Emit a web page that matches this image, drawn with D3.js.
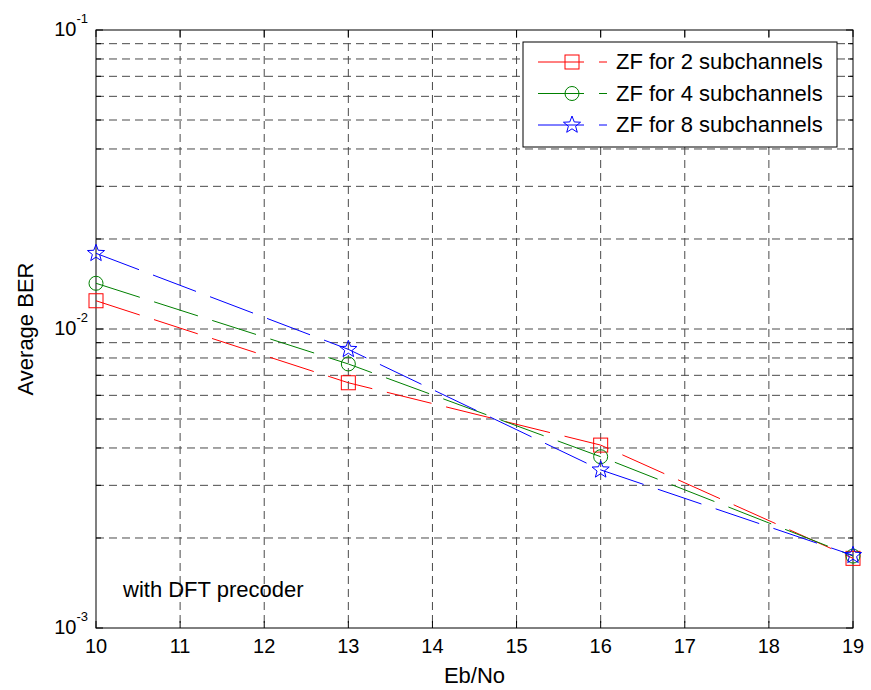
<!DOCTYPE html>
<html>
<head>
<meta charset="utf-8">
<script src="https://cdn.jsdelivr.net/npm/d3@7"></script>
<style>
  body { margin: 0; background: #fff; }
  text { font-family: "Liberation Sans", Arial, sans-serif; fill: #000; }
</style>
</head>
<body>
<div id="chart"></div>
<script>
var ebno = [10, 13, 16, 19];
var ber2 = [0.01243, 0.00661, 0.00409, 0.00171];
var ber4 = [0.01422, 0.00764, 0.00374, 0.00174];
var ber8 = [0.01791, 0.00855, 0.00338, 0.00175];
var xTicks = [10, 11, 12, 13, 14, 15, 16, 17, 18, 19];
var yDecades = [-3, -2, -1];
var seriesNames = ["ZF for 2 subchannels", "ZF for 4 subchannels", "ZF for 8 subchannels"];

var W = 871, H = 690;
var margin = {left: 96, top: 30, right: 18, bottom: 62};
var width = W - margin.left - margin.right;
var height = H - margin.top - margin.bottom;

var svg = d3.select("#chart").append("svg")
    .attr("width", W)
    .attr("height", H);

var g = svg.append("g")
    .attr("transform", "translate(" + margin.left + "," + margin.top + ")");

var xScale = d3.scaleLinear().domain([10, 19]).range([0, width]);
var yScale = d3.scaleLog().domain([1e-3, 1e-1]).range([height, 0]);

// minor values for log grid
var yMinor = [];
[-3, -2].forEach(function(e) {
    for (var k = 2; k <= 9; k++) yMinor.push(k * Math.pow(10, e));
});
var yMajor = yDecades.map(function(e) { return Math.pow(10, e); });

// grid
var grid = g.append("g")
    .attr("stroke", "#4a4a4a")
    .attr("stroke-width", 1)
    .attr("stroke-dasharray", "8,5");
grid.selectAll("line.gx")
    .data(xTicks.slice(1, -1))
    .enter().append("line")
    .attr("x1", d => xScale(d)).attr("x2", d => xScale(d))
    .attr("y1", 0).attr("y2", height);
grid.selectAll("line.gy")
    .data(yMinor.concat([1e-2]))
    .enter().append("line")
    .attr("x1", 0).attr("x2", width)
    .attr("y1", d => yScale(d)).attr("y2", d => yScale(d));

// ticks inside, all four sides
var ticks = g.append("g").attr("stroke", "#000").attr("stroke-width", 1);
xTicks.forEach(function(d) {
    ticks.append("line").attr("x1", xScale(d)).attr("x2", xScale(d)).attr("y1", height).attr("y2", height - 7);
    ticks.append("line").attr("x1", xScale(d)).attr("x2", xScale(d)).attr("y1", 0).attr("y2", 7);
});
yMajor.concat(yMinor).forEach(function(d) {
    var len = yMajor.indexOf(d) >= 0 ? 7 : 5;
    ticks.append("line").attr("x1", 0).attr("x2", len).attr("y1", yScale(d)).attr("y2", yScale(d));
    ticks.append("line").attr("x1", width).attr("x2", width - len).attr("y1", yScale(d)).attr("y2", yScale(d));
});

// frame
g.append("rect")
    .attr("width", width).attr("height", height)
    .attr("fill", "none").attr("stroke", "#000").attr("stroke-width", 1);

// tick labels
g.selectAll("text.xt")
    .data(xTicks)
    .enter().append("text")
    .attr("x", d => xScale(d))
    .attr("y", height + 25)
    .attr("text-anchor", "middle")
    .style("font-size", "20px")
    .text(d => d);

var yt = g.selectAll("text.yt")
    .data(yDecades)
    .enter().append("text")
    .attr("x", -8)
    .attr("y", d => yScale(Math.pow(10, d)) + 6)
    .attr("text-anchor", "end")
    .style("font-size", "20px");
yt.append("tspan").text("10");
yt.append("tspan").attr("dy", -13).style("font-size", "13px").text(d => d);

// axis labels
svg.append("text")
    .attr("x", margin.left + width / 2)
    .attr("y", 683)
    .attr("text-anchor", "middle")
    .style("font-size", "22px")
    .text("Eb/No");

svg.append("text")
    .attr("transform", "translate(33," + (margin.top + height / 2) + ") rotate(-90)")
    .attr("text-anchor", "middle")
    .style("font-size", "22px")
    .text("Average BER");

g.append("text")
    .attr("x", 27)
    .attr("y", 567)
    .style("font-size", "22px")
    .text("with DFT precoder");

// series
var series = [
    {name: seriesNames[0], values: ber2, color: "#ff0000", marker: "square"},
    {name: seriesNames[1], values: ber4, color: "#008000", marker: "circle"},
    {name: seriesNames[2], values: ber8, color: "#0000ff", marker: "star"}
];

var line = d3.line()
    .x(d => xScale(d[0]))
    .y(d => yScale(d[1]));

function drawMarker(sel, type, color) {
    if (type === "square") {
        sel.append("rect").attr("x", -7).attr("y", -7).attr("width", 14).attr("height", 14)
            .attr("fill", "none").attr("stroke", color);
    } else if (type === "circle") {
        sel.append("circle").attr("r", 7).attr("fill", "none").attr("stroke", color);
    } else {
        var pts = [];
        for (var i = 0; i < 10; i++) {
            var r = i % 2 === 0 ? 9 : 3.8;
            var a = -Math.PI / 2 + i * Math.PI / 5;
            pts.push([r * Math.cos(a), r * Math.sin(a)]);
        }
        sel.append("path").attr("d", "M" + pts.join("L") + "Z")
            .attr("fill", "none").attr("stroke", color);
    }
}

series.forEach(function(s) {
    var pts = ebno.map((x, i) => [x, s.values[i]]);
    g.append("path")
        .datum(pts)
        .attr("d", line)
        .attr("fill", "none")
        .attr("stroke", s.color)
        .attr("stroke-width", 1)
        .attr("stroke-dasharray", "46,15");
    pts.forEach(function(p) {
        var m = g.append("g").attr("transform", "translate(" + xScale(p[0]) + "," + yScale(p[1]) + ")");
        drawMarker(m, s.marker, s.color);
    });
});

// legend
var lg = svg.append("g").attr("transform", "translate(523,42)");
lg.append("rect")
    .attr("width", 314).attr("height", 105)
    .attr("fill", "#fff").attr("stroke", "#000").attr("stroke-width", 1);
series.forEach(function(s, i) {
    var y = 20 + i * 31.5;
    var row = lg.append("g").attr("transform", "translate(0," + y + ")");
    row.append("line")
        .attr("x1", 15).attr("x2", 84).attr("y1", 0).attr("y2", 0)
        .attr("stroke", s.color).attr("stroke-dasharray", "46,15");
    drawMarker(row.append("g").attr("transform", "translate(49,0)"), s.marker, s.color);
    row.append("text")
        .attr("x", 93).attr("y", 7)
        .style("font-size", "22px")
        .text(s.name);
});
</script>
</body>
</html>
